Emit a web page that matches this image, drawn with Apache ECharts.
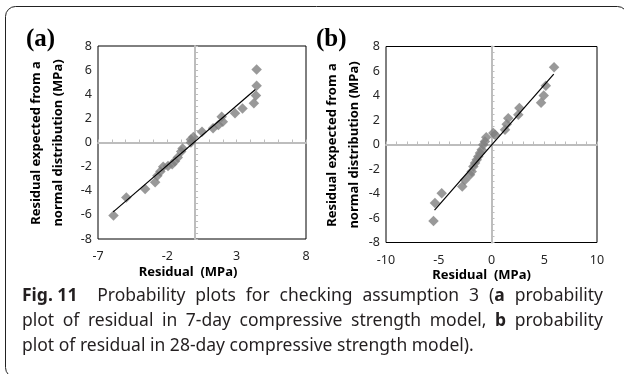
<!DOCTYPE html>
<html>
<head>
<meta charset="utf-8">
<script src="https://cdn.jsdelivr.net/npm/echarts@6/dist/echarts.min.js"></script>
<style>
html,body{margin:0;padding:0;background:#fff;}
#chart{width:624px;height:374px;}
</style>
</head>
<body>
<div id="chart"></div>
<script>
// Panel (a): 7-day model residuals
var residualA = [-5.88,-4.96,-3.6,-2.88,-2.72,-2.5,-2.3,-1.95,-1.65,-1.45,-1.25,-1.0,-0.9,-0.3,-0.3,-0.12,0.5,1.3,1.68,1.92,2.0,2.88,3.42,4.24,4.39,4.44,4.44];
var expectedA = [-6.05,-4.55,-3.86,-3.3,-2.75,-2.4,-2.0,-1.95,-1.8,-1.55,-1.25,-0.75,-0.5,0.0,0.25,0.45,0.9,1.18,1.45,2.14,1.72,2.42,2.82,3.25,3.9,4.7,6.05];
var fitA_x = [-5.9, 4.35];
var fitA_y = [-5.75, 4.4];
// Panel (b): 28-day model residuals
var residualB = [-5.5,-5.36,-4.72,-2.77,-2.51,-2.04,-1.88,-1.72,-1.56,-1.4,-1.25,-1.09,-0.93,-0.78,-0.62,-0.5,0.17,0.33,1.28,1.44,1.59,2.54,2.64,4.7,4.95,5.15,5.93];
var expectedB = [-6.25,-4.78,-3.97,-3.43,-2.9,-2.47,-2.2,-1.8,-1.52,-1.25,-0.98,-0.7,-0.43,-0.02,0.25,0.6,0.93,0.8,1.2,1.65,2.15,2.42,2.97,3.4,4.0,4.8,6.3];
var fitB_x = [-5.4, 5.9];
var fitB_y = [-5.35, 5.75];
// Axis ranges / ticks
var xRangeA = [-7, 8], xStepA = 5;
var xRangeB = [-10, 10], xStepB = 5;
var yRange = [-8, 8], yStep = 2;
// Caption lines (segments: [text, bold, noSpaceBefore])
var captionLines = [
  [['Fig. 11', true], ['Probability', false], ['plots', false], ['for', false], ['checking', false], ['assumption', false], ['3', false], ['(', false], ['a', true, true], ['probability', false]],
  [['plot', false], ['of', false], ['residual', false], ['in', false], ['7-day', false], ['compressive', false], ['strength', false], ['model,', false], ['b', true], ['probability', false]],
  [['plot', false], ['of', false], ['residual', false], ['in', false], ['28-day', false], ['compressive', false], ['strength', false], ['model).', false]]
];

function pairs(xs, ys){ return xs.map(function(x,i){ return [x, ys[i]]; }); }

var grids = [
  {left:98, top:46, width:208, height:193, show:true, borderColor:'#000', borderWidth:1, backgroundColor:'transparent'},
  {left:386, top:46.5, width:211, height:196, show:true, borderColor:'#000', borderWidth:1, backgroundColor:'transparent'}
];
var tickFont = {fontFamily:'Noto Sans', fontSize:12.5, color:'#262626'};
var zeroLine = {color:'#bdbdbd', width:2};

function labelX(g, r, s){
  return {gridIndex:g, type:'value', min:r[0], max:r[1], interval:s, position:'bottom',
    axisLine:{show:false, onZero:false}, axisTick:{show:false}, splitLine:{show:false},
    axisLabel:Object.assign({margin:11}, tickFont)};
}
function zeroX(g, r, s, yi){
  return {gridIndex:g, type:'value', min:r[0], max:r[1], interval:s, position:'top',
    axisLine:{show:true, onZero:true, onZeroAxisIndex:yi, lineStyle:zeroLine},
    axisTick:{show:true, length:3, lineStyle:{color:'#bdbdbd', width:1}},
    minorTick:{show:true, splitNumber:5, length:3, lineStyle:{color:'#bdbdbd', width:1}},
    splitLine:{show:false}, axisLabel:{show:false}};
}
function labelY(g){
  return {gridIndex:g, type:'value', min:yRange[0], max:yRange[1], interval:yStep, position:'left',
    axisLine:{show:false, onZero:false}, axisTick:{show:false}, splitLine:{show:false},
    axisLabel:Object.assign({margin:6}, tickFont)};
}
function zeroY(g, xi){
  return {gridIndex:g, type:'value', min:yRange[0], max:yRange[1], interval:yStep, position:'right',
    axisLine:{show:true, onZero:true, onZeroAxisIndex:xi, lineStyle:zeroLine},
    axisTick:{show:true, length:3, lineStyle:{color:'#bdbdbd', width:1}},
    minorTick:{show:true, splitNumber:4, length:3, lineStyle:{color:'#bdbdbd', width:1}},
    splitLine:{show:false}, axisLabel:{show:false}};
}

// Build justified caption lines as rich text
var capSize = 17.5, capFamily = '"Noto Sans"', capWidth = 581, capColor = '#231f20';
var mctx = document.createElement('canvas').getContext('2d');
function measure(t, bold){ mctx.font = (bold ? 'bold ' : '') + capSize + 'px ' + capFamily; return mctx.measureText(t).width; }
var captionRich = {
  n:{fontFamily:'Noto Sans', fontSize:capSize, fill:capColor, lineHeight:25},
  b:{fontFamily:'Noto Sans', fontSize:capSize, fontWeight:'bold', fill:capColor, lineHeight:25}
};
var captionText = [];
captionLines.forEach(function(line, li){
  var justify = li < captionLines.length - 1;
  var wordsW = 0, gaps = 0;
  line.forEach(function(seg, i){ wordsW += measure(seg[0], seg[1]); if (i > 0 && !seg[2]) gaps++; });
  var extraFirst = (li === 0) ? 1 : 0; // double space after "Fig. 11"
  var natSpace = measure(' ', false);
  var spW = justify ? (capWidth - wordsW) / (gaps + extraFirst) : natSpace;
  var key = 's' + li;
  captionRich[key] = {width:spW, fontSize:capSize, lineHeight:25};
  captionRich[key + 'd'] = {width:spW * 2, fontSize:capSize, lineHeight:25};
  var str = '';
  line.forEach(function(seg, i){
    if (i > 0 && !seg[2]) str += (li === 0 && i === 1) ? '{' + key + 'd| }' : '{' + key + '| }';
    str += '{' + (seg[1] ? 'b' : 'n') + '|' + seg[0] + '}';
  });
  captionText.push(str);
});

var titleFont = 'bold 13px "Noto Sans"';
var option = {
  animation:false,
  backgroundColor:'#fff',
  grid:grids,
  xAxis:[labelX(0,xRangeA,xStepA), zeroX(0,xRangeA,xStepA,0), labelX(1,xRangeB,xStepB), zeroX(1,xRangeB,xStepB,2)],
  yAxis:[labelY(0), zeroY(0,0), labelY(1), zeroY(1,2)],
  series:[
    {type:'scatter', xAxisIndex:0, yAxisIndex:0, data:pairs(residualA, expectedA), symbol:'diamond', symbolSize:10.5, itemStyle:{color:'#7f7f7f'}, z:2},
    {type:'line', xAxisIndex:0, yAxisIndex:0, data:pairs(fitA_x, fitA_y), symbol:'none', lineStyle:{color:'#000', width:1.2}, z:3},
    {type:'scatter', xAxisIndex:2, yAxisIndex:2, data:pairs(residualB, expectedB), symbol:'diamond', symbolSize:10.5, itemStyle:{color:'#7f7f7f'}, z:2},
    {type:'line', xAxisIndex:2, yAxisIndex:2, data:pairs(fitB_x, fitB_y), symbol:'none', lineStyle:{color:'#000', width:1.2}, z:3}
  ],
  graphic:[
    {type:'rect', shape:{x:5.5, y:6.5, width:622, height:371, r:10}, style:{fill:'none', stroke:'#222', lineWidth:1}, z:-1},
    {type:'text', x:26, y:27, style:{text:'(a)', font:'bold 25px "Liberation Serif"', fill:'#000'}},
    {type:'text', x:316, y:27, style:{text:'(b)', font:'bold 25px "Liberation Serif"', fill:'#000'}},
    {type:'text', x:47, y:143, rotation:Math.PI/2, style:{text:'Residual expected from a\nnormal distribution (MPa)', font:titleFont, lineHeight:22, align:'center', verticalAlign:'middle', fill:'#000'}},
    {type:'text', x:343, y:145, rotation:Math.PI/2, style:{text:'Residual expected from a\nnormal distribution (MPa)', font:titleFont, lineHeight:22, align:'center', verticalAlign:'middle', fill:'#000'}},
    {type:'text', x:188, y:272, style:{text:'Residual  (MPa)', font:titleFont, align:'center', verticalAlign:'middle', fill:'#000'}},
    {type:'text', x:481.5, y:275, style:{text:'Residual  (MPa)', font:titleFont, align:'center', verticalAlign:'middle', fill:'#000'}},
    {type:'text', x:22, y:284, style:{text:captionText.join('\n'), rich:captionRich, fill:capColor}}
  ]
};
var chart = echarts.init(document.getElementById('chart'), null, {renderer:'canvas'});
chart.setOption(option);
</script>
</body>
</html>
